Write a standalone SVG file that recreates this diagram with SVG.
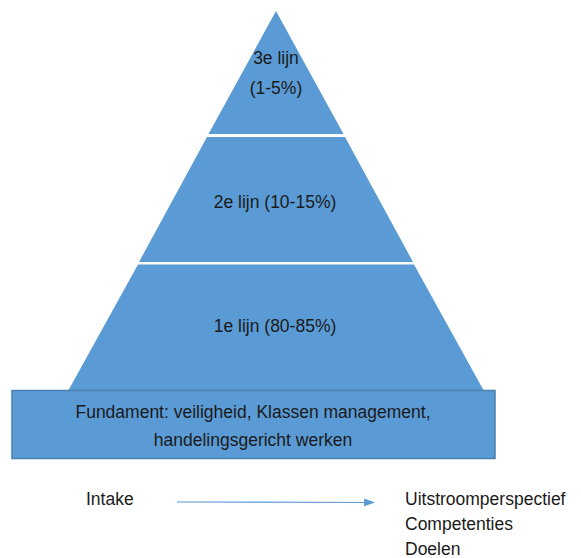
<svg xmlns="http://www.w3.org/2000/svg" width="581" height="558" viewBox="0 0 581 558">
<defs>
<style>
.sh{fill:#5B9BD5;stroke:none}
.t{font-family:"Liberation Sans",Arial,sans-serif;font-size:17.5px;fill:#1a1a1a}
.c{text-anchor:middle}
</style>
<marker id="ah" viewBox="0 0 10 10" refX="9" refY="5" markerWidth="11" markerHeight="11" markerUnits="userSpaceOnUse" orient="auto">
<path d="M0,1.5 L10,5 L0,8.5 Z" fill="#5B9BD5"/>
</marker>
</defs>
<rect width="581" height="558" fill="#fff"/>
<g id="level3">
<polygon class="sh" points="276,11 343.5,134 208.5,134"/>
<text class="t c" x="276" y="64">3e lijn</text>
<text class="t c" x="276" y="94">(1-5%)</text>
</g>
<g id="level2">
<polygon class="sh" points="207,137 345,137 413,262 139,262"/>
<text class="t c" x="275" y="208">2e lijn (10-15%)</text>
</g>
<g id="level1">
<polygon class="sh" points="138,264.5 414,264.5 484,391 68,391"/>
<text class="t c" x="275" y="332">1e lijn (80-85%)</text>
</g>
<g id="fundament">
<rect x="12" y="390.5" width="483" height="68" fill="#5B9BD5" stroke="#4A7FB0" stroke-width="1.5"/>
<text class="t c" x="253" y="418">Fundament: veiligheid, Klassen management,</text>
<text class="t c" x="253" y="446">handelingsgericht werken</text>
</g>
<g id="intake">
<text class="t" x="86" y="505">Intake</text>
</g>
<g id="outcomes">
<text class="t" x="405" y="505">Uitstroomperspectief</text>
<text class="t" x="405" y="530">Competenties</text>
<text class="t" x="405" y="555">Doelen</text>
</g>
<g id="connectors">
<line x1="177" y1="502" x2="374" y2="502.5" stroke="#5B9BD5" stroke-width="1.2" marker-end="url(#ah)"/>
</g>
</svg>
